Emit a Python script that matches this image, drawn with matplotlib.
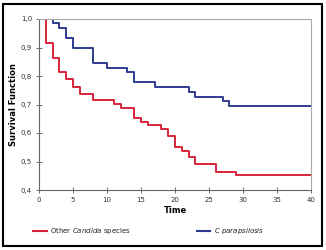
import matplotlib
matplotlib.use("Agg")
import matplotlib.pyplot as plt
from matplotlib.lines import Line2D
from matplotlib.patches import Rectangle
from matplotlib.ticker import FuncFormatter

plt.rcParams['font.family'] = ['DejaVu Sans']
plt.rcParams['mathtext.fontset'] = 'custom'
plt.rcParams['mathtext.it'] = 'DejaVu Sans:italic'
plt.rcParams['mathtext.rm'] = 'DejaVu Sans'

# Kaplan-Meier steps
other_time = [0, 1, 2, 3, 4, 5, 6, 8, 11, 12, 14, 15, 16, 18, 19, 20, 21, 22, 23, 26, 29, 40]
other_surv = [1.0, 0.915, 0.862, 0.813, 0.788, 0.760, 0.738, 0.715, 0.702, 0.688, 0.651,
              0.638, 0.627, 0.614, 0.589, 0.552, 0.537, 0.515, 0.490, 0.463, 0.451, 0.451]

para_time = [0, 2, 3, 4, 5, 8, 10, 13, 14, 17, 22, 23, 27, 28, 40]
para_surv = [1.0, 0.985, 0.967, 0.934, 0.897, 0.847, 0.829, 0.815, 0.780, 0.762,
             0.745, 0.727, 0.712, 0.695, 0.695]

red = '#d8243a'
blue = '#2f3b8e'

fig = plt.figure(figsize=(3.26, 2.5), dpi=100)
ax = fig.add_axes([39 / 326, 60 / 250, 272 / 326, 171 / 250])

ax.step(other_time, other_surv, where='post', color=red, lw=1.4)
ax.step(para_time, para_surv, where='post', color=blue, lw=1.4)

ax.set_xlim(0, 40)
ax.set_ylim(0.4, 1.0)
ax.set_xticks(range(0, 41, 5))
ax.set_yticks([0.4, 0.5, 0.6, 0.7, 0.8, 0.9, 1.0])
ax.yaxis.set_major_formatter(FuncFormatter(lambda v, p: ('%.1f' % v).replace('.', ',')))
ax.tick_params(direction='inout', length=4, width=0.6, labelsize=5, colors='#555555',
               labelcolor='#333333', pad=3)

for s in ['top', 'right']:
    ax.spines[s].set_color('#aaaaaa')
    ax.spines[s].set_linewidth(0.8)
for s in ['left', 'bottom']:
    ax.spines[s].set_color('#666666')
    ax.spines[s].set_linewidth(0.8)

ax.set_xlabel('Time', fontsize=6, fontweight='bold', labelpad=2)
ax.set_ylabel('Survival Function', fontsize=6, fontweight='bold')
ax.yaxis.set_label_coords(-(39 - 18) / 272, 0.5)

# legend drawn by hand below the plot
fig.add_artist(Line2D([33 / 326, 47 / 326], [0.076, 0.076], color=red, lw=1.5))
fig.text(50 / 326, 0.076, r'Other $\it{Candida}$ species', fontsize=5,
         va='center', color='#222222')
fig.add_artist(Line2D([197 / 326, 210 / 326], [0.076, 0.076], color=blue, lw=1.5))
fig.text(214 / 326, 0.076, r'$\it{C\ parapsilosis}$', fontsize=5, va='center',
         color='#222222')

# outer frame
fig.add_artist(Rectangle((3 / 326, 4 / 250), 319 / 326, 242 / 250, transform=fig.transFigure,
                         fill=False, ec='black', lw=1.5))

fig.savefig('out.png', dpi=100)
